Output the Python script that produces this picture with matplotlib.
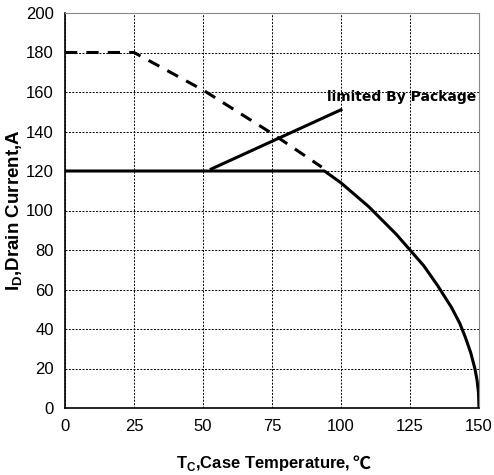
import matplotlib
matplotlib.use("Agg")
import matplotlib.pyplot as plt

# Dashed (chip-limited) curve
dash_t = [0, 25, 50, 75, 93]
dash_i = [180, 180, 161, 139, 122]

# Solid (package-limited + derating) curve
solid_t = [0, 94, 100, 105, 110, 115, 120, 125, 130, 135, 140, 143, 145, 147, 148.5, 149.3, 149.8, 150]
solid_i = [120, 120, 114, 108, 102, 95, 88, 80, 72, 62, 51, 43, 36, 28, 20, 14, 8, 0]

x_ticks = [0, 25, 50, 75, 100, 125, 150]
y_ticks = [0, 20, 40, 60, 80, 100, 120, 140, 160, 180, 200]

annot_start = (53, 121)
annot_end = (100, 151)
annot_text = "limited By Package"

plt.rcParams['font.family'] = ['Liberation Sans', 'DejaVu Sans', 'Noto Sans CJK SC']

fig = plt.figure(figsize=(4.94, 4.75), dpi=100)
ax = fig.add_axes([65/494, 1-408/475, (479-65)/494, (408-13)/475])

ax.plot(dash_t, dash_i, color='black', lw=2.2, linestyle=(0, (4, 3)), solid_capstyle='butt')
ax.plot(solid_t, solid_i, color='black', lw=2.2, solid_joinstyle='round')
ax.plot([annot_start[0], annot_end[0]], [annot_start[1], annot_end[1]], color='black', lw=2.2)
ax.text(95, 157.5, annot_text, fontsize=10, fontweight='bold', va='center', ha='left',
        family=['DejaVu Sans'])

ax.set_xlim(0, 150)
ax.set_ylim(0, 200)
ax.set_xticks(x_ticks)
ax.set_yticks(y_ticks)
ax.tick_params(length=0, labelsize=12, pad=8)
ax.grid(True, color='black', linestyle=(0, (2, 1.5)), linewidth=0.7)
ax.set_axisbelow(True)
for s in ['top', 'right']:
    ax.spines[s].set_color('#888888')
for s in ['left', 'bottom']:
    ax.spines[s].set_color('black')
    ax.spines[s].set_linewidth(1.2)

xl = ax.set_xlabel(r"T$_\mathregular{C}$,Case Temperature,", fontsize=12, fontweight='bold', labelpad=14)
xl.set_x(0.48)
ax.set_ylabel(r"I$_\mathregular{D}$,Drain Current,A", fontsize=13.5, fontweight='bold', labelpad=0.5)

fig.canvas.draw()
ax.annotate("℃", xy=(1, 0), xycoords=xl, xytext=(1, 0), textcoords='offset points',
            ha='left', va='bottom', fontsize=13, fontweight='bold',
            family=['Noto Sans CJK SC', 'DejaVu Sans'], annotation_clip=False)

fig.savefig("out.png", dpi=100)
